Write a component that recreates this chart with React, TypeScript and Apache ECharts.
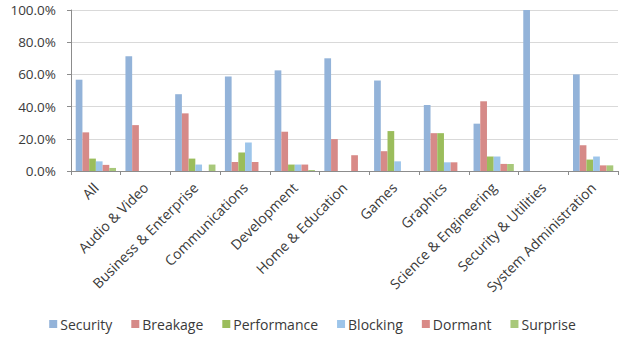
import React, { useEffect, useRef } from "react";
import * as echarts from "echarts";

// Share of issues per application category (percent)
const categories = [
  "All",
  "Audio & Video",
  "Business & Enterprise",
  "Communications",
  "Development",
  "Home & Education",
  "Games",
  "Graphics",
  "Science & Engineering",
  "Security & Utilities",
  "System Administration",
];

const security = [56.7, 71.2, 47.7, 58.7, 62.5, 70.0, 56.2, 41.0, 29.4, 100.0, 60.0];
const breakage = [24.0, 28.5, 35.8, 5.6, 24.4, 19.8, 12.3, 23.5, 43.3, 0, 16.0];
const performance = [7.7, 0, 7.7, 11.5, 4.0, 0, 24.8, 23.5, 9.0, 0, 7.1];
const blocking = [6.0, 0, 4.0, 17.7, 4.0, 0, 6.0, 5.4, 9.0, 0, 9.0];
const dormant = [3.8, 0, 0, 5.6, 4.0, 9.8, 0, 5.4, 4.4, 0, 3.5];
const surprise = [1.9, 0, 4.0, 0, 0.6, 0, 0, 0, 4.4, 0, 3.5];

const seriesNames = ["Security", "Breakage", "Performance", "Blocking", "Dormant", "Surprise"];
const seriesData = [security, breakage, performance, blocking, dormant, surprise];
const seriesColors = ["#93B3D9", "#D68A88", "#9BBD5C", "#9DC5EA", "#D98A87", "#A8C87A"];

const yTicks = { min: 0, max: 100, interval: 20 };

const FONT = "'Open Sans', 'DejaVu Sans', sans-serif";
const TEXT = "#3A3A3A";

export default function App() {
  const ref = useRef<HTMLDivElement>(null);

  useEffect(() => {
    if (!ref.current) return;
    const chart = echarts.init(ref.current, undefined, { renderer: "svg" });
    chart.setOption({
      animation: false,
      backgroundColor: "#ffffff",
      textStyle: { fontFamily: FONT },
      grid: { left: 71, right: 7, top: 10, bottom: 171, containLabel: false },
      legend: {
        bottom: 6,
        left: "center",
        itemWidth: 8,
        itemHeight: 8,
        itemGap: 19,
        icon: "rect",
        textStyle: { fontFamily: FONT, fontSize: 14, color: TEXT, padding: [0, 0, 0, -2] },
        data: seriesNames,
      },
      xAxis: {
        type: "category",
        data: categories,
        boundaryGap: true,
        axisLine: { lineStyle: { color: "#8C8C8C", width: 1 } },
        axisTick: { show: true, length: 4, alignWithLabel: false, lineStyle: { color: "#8C8C8C" } },
        axisLabel: {
          interval: 0,
          rotate: 45,
          margin: 14,
          fontFamily: FONT,
          fontSize: 14,
          color: TEXT,
        },
      },
      yAxis: {
        type: "value",
        min: yTicks.min,
        max: yTicks.max,
        interval: yTicks.interval,
        axisLine: { show: true, lineStyle: { color: "#8C8C8C", width: 1 } },
        axisTick: { show: true, length: 4, lineStyle: { color: "#8C8C8C" } },
        splitLine: { lineStyle: { color: "#D9D9D9", width: 1 } },
        axisLabel: {
          margin: 15,
          fontFamily: FONT,
          fontSize: 13.5,
          color: TEXT,
          formatter: (v: number) => `${v.toFixed(1)}%`,
        },
      },
      series: seriesNames.map((name, i) => ({
        name,
        type: "bar",
        data: seriesData[i],
        barGap: "0%",
        barCategoryGap: "19%",
        itemStyle: { color: seriesColors[i] },
      })),
    });
    return () => chart.dispose();
  }, []);

  return (
    <div
      ref={ref}
      style={{ position: "absolute", left: 0, top: 0, width: 625, height: 342 }}
    />
  );
}
